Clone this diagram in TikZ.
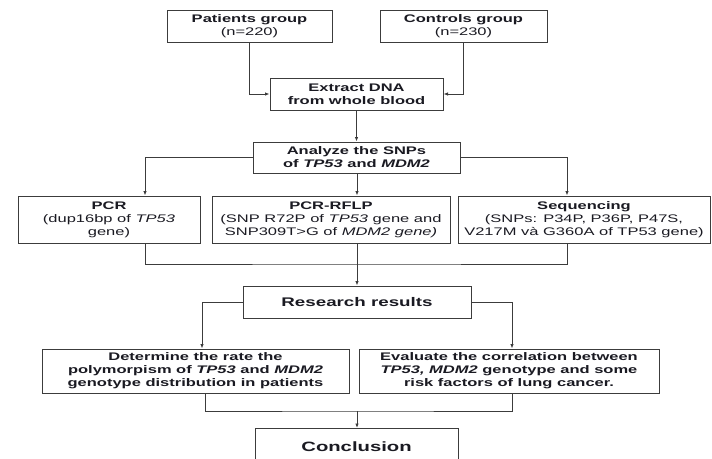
\documentclass[tikz,border=0pt]{standalone}
\usepackage{fontspec}
\setmainfont{Liberation Sans}[FakeStretch=1.5]
\usetikzlibrary{arrows.meta}
\definecolor{ink}{HTML}{1A1A22}
\definecolor{rule}{HTML}{3C3C3C}
\tikzset{
  x=1pt, y=-1pt,
  box/.style={draw=rule, line width=1pt, fill=white, inner sep=0pt,
    align=center, text=ink, font=\fontsize{11}{13}\selectfont},
  link/.style={draw=rule, line width=1pt},
  arr/.style={link, -{Latex[length=4.5pt,width=3.5pt]}},
}
\begin{document}
\begin{tikzpicture}
\useasboundingbox (0,0) rectangle (712,458);

% inputs
\node[box, minimum width=165, minimum height=32] (pat) at (249.5,26)
  {\textbf{Patients group}\\(n=220)};
\node[box, minimum width=167, minimum height=32] (con) at (463.5,26)
  {\textbf{Controls group}\\(n=230)};
\node[box, minimum width=173, minimum height=32] (dna) at (356.5,94)
  {\textbf{Extract DNA}\\\textbf{from whole blood}};
\node[box, minimum width=207, minimum height=31] (ana) at (356.5,157.5)
  {\textbf{Analyze the SNPs}\\\textbf{of \textit{TP53} and \textit{MDM2}}};

% methods
\node[box, minimum width=182, minimum height=47] (pcr) at (109,219.5)
  {\textbf{PCR}\\(dup16bp of \textit{TP53}\\gene)};
\node[box, minimum width=238, minimum height=47] (rflp) at (331,219.5)
  {\textbf{PCR-RFLP}\\(SNP R72P of \textit{TP53} gene and\\SNP309T>G of \textit{MDM2 gene)}};
\node[box, minimum width=252, minimum height=47] (seq) at (584,219.5)
  {\textbf{Sequencing}\\(SNPs: P34P, P36P, P47S,\\V217M và G360A of TP53 gene)};

% results
\node[box, minimum width=228, minimum height=32, font=\fontsize{12.5}{15}\selectfont\bfseries]
  (res) at (357,302) {Research results};
\node[box, minimum width=307, minimum height=44, font=\fontsize{11}{13}\selectfont\bfseries]
  (det) at (195.5,371)
  {Determine the rate the\\polymorpism of \textit{TP53} and \textit{MDM2}\\genotype distribution in patients};
\node[box, minimum width=300, minimum height=44, font=\fontsize{11}{13}\selectfont\bfseries]
  (eva) at (509,371)
  {Evaluate the correlation between\\\textit{TP53, MDM2} genotype and some\\risk factors of lung cancer.};
\node[box, minimum width=203, minimum height=42, font=\fontsize{13.5}{16}\selectfont\bfseries,
  anchor=north] (conc) at (356.5,428) {\raisebox{6pt}{Conclusion}};

% junction points
\coordinate (pcrj) at (145,0);
\coordinate (seqj) at (567,0);
\coordinate (midj) at (357,264);
\coordinate (detj) at (202,0);
\coordinate (detb) at (205,0);
\coordinate (evaj) at (512,0);
\coordinate (endj) at (357,411);

% connectors
\draw[arr] (pat.south) |- (dna.west);
\draw[arr] (con.south) |- (dna.east);
\draw[arr] (dna.south) -- (ana.north);
\draw[arr] (ana.west) -| (pcr.north -| pcrj);
\draw[arr] (ana.east) -| (seq.north -| seqj);
\draw[arr] (ana.south -| midj) -- (rflp.north -| midj);
\draw[link] (pcr.south -| pcrj) |- (midj) -| (seq.south -| seqj);
\draw[arr] (rflp.south -| midj) -- (res.north -| midj);
\draw[arr] (res.west) -| (det.north -| detj);
\draw[arr] (res.east) -| (eva.north -| evaj);
\draw[link] (det.south -| detb) |- (endj) -| (eva.south -| evaj);
\draw[arr] (endj) -- (conc.north -| endj);
\end{tikzpicture}
\end{document}
